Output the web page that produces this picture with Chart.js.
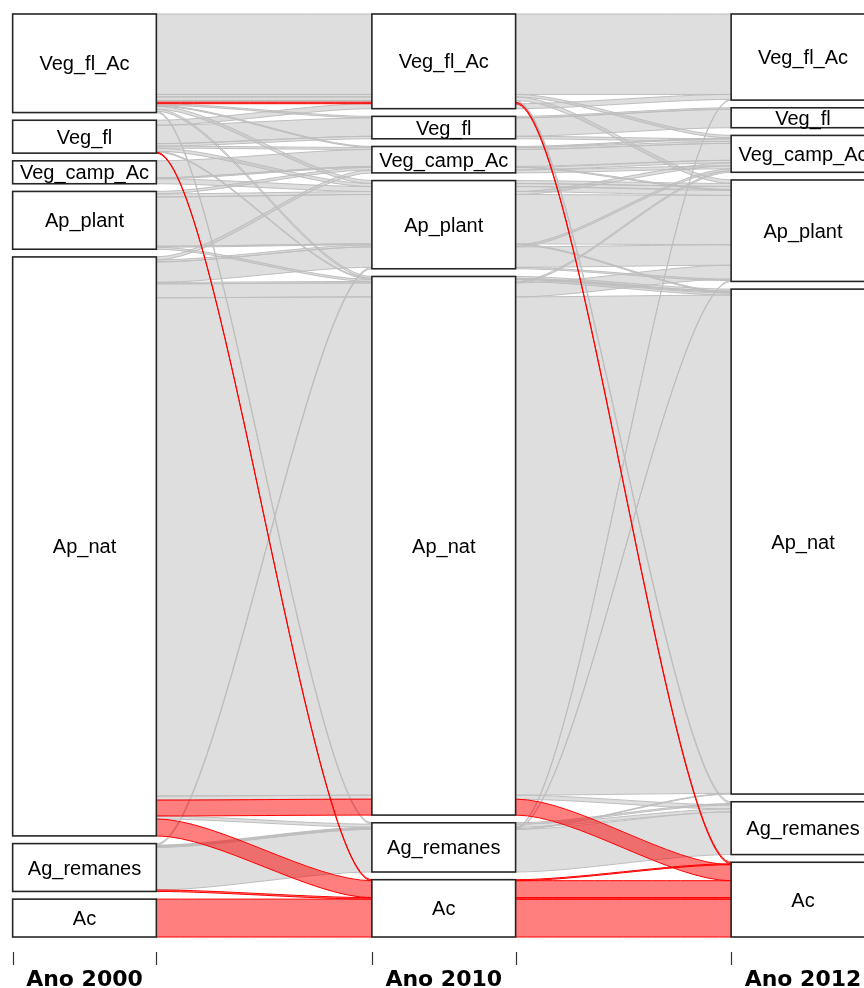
<!DOCTYPE html>
<html>
<head>
<meta charset="utf-8">
<script src="https://cdn.jsdelivr.net/npm/chart.js@4.4.1/dist/chart.umd.min.js"></script>
<style>
html,body{margin:0;padding:0;background:#ffffff;}
#wrap{width:864px;height:988px;position:relative;}
</style>
</head>
<body>
<div id="wrap"><canvas id="c"></canvas></div>
<script>
// Category levels (bottom to top on each axis)
const categories = ["Ac","Ag_remanes","Ap_nat","Ap_plant","Veg_camp_Ac","Veg_fl","Veg_fl_Ac"];
const years = ["Ano 2000","Ano 2010","Ano 2012"];

// One entry per alluvium (land-use trajectory)
const ano2000 = ["Ac","Ag_remanes","Ag_remanes","Ag_remanes","Ag_remanes","Ag_remanes","Ag_remanes",
  "Ap_nat","Ap_nat","Ap_nat","Ap_nat","Ap_nat","Ap_nat","Ap_nat","Ap_nat","Ap_nat","Ap_nat",
  "Ap_plant","Ap_plant","Ap_plant","Ap_plant","Ap_plant",
  "Veg_camp_Ac","Veg_camp_Ac","Veg_camp_Ac",
  "Veg_fl","Veg_fl","Veg_fl","Veg_fl","Veg_fl","Veg_fl","Veg_fl",
  "Veg_fl_Ac","Veg_fl_Ac","Veg_fl_Ac","Veg_fl_Ac","Veg_fl_Ac","Veg_fl_Ac","Veg_fl_Ac","Veg_fl_Ac","Veg_fl_Ac","Veg_fl_Ac"];
const ano2010 = ["Ac","Ac","Ag_remanes","Ag_remanes","Ag_remanes","Ag_remanes","Ap_plant",
  "Ac","Ag_remanes","Ap_nat","Ap_nat","Ap_nat","Ap_nat","Ap_nat","Ap_plant","Ap_plant","Veg_camp_Ac",
  "Ap_nat","Ap_plant","Ap_plant","Ap_plant","Veg_camp_Ac",
  "Ap_plant","Veg_camp_Ac","Veg_camp_Ac",
  "Ac","Ap_nat","Ap_plant","Veg_camp_Ac","Veg_fl","Veg_fl","Veg_fl_Ac",
  "Ag_remanes","Ap_nat","Ap_plant","Veg_camp_Ac","Veg_fl","Veg_fl_Ac","Veg_fl_Ac","Veg_fl_Ac","Veg_fl_Ac","Veg_fl_Ac"];
const ano2012 = ["Ac","Ac","Ag_remanes","Ap_nat","Ap_plant","Veg_fl_Ac","Ap_plant",
  "Ac","Ag_remanes","Ac","Ag_remanes","Ap_nat","Ap_plant","Veg_camp_Ac","Ap_plant","Veg_camp_Ac","Veg_camp_Ac",
  "Ap_nat","Ap_nat","Ap_plant","Veg_camp_Ac","Veg_camp_Ac",
  "Ap_plant","Ap_plant","Veg_camp_Ac",
  "Ac","Ap_nat","Ap_plant","Veg_camp_Ac","Veg_camp_Ac","Veg_fl","Veg_fl_Ac",
  "Ag_remanes","Ap_nat","Ap_plant","Veg_camp_Ac","Veg_fl","Ac","Ag_remanes","Ap_plant","Veg_camp_Ac","Veg_fl_Ac"];
const area = [38,1.5,42.8,0.7,0.8,0.7,1.5,
  17,3,16,4,500,14,1.5,20.5,2,3,
  2,1,49.5,3,2.5,
  5,1,17,
  1,1,3,2,2.5,18.5,5,
  1.4,2,3,1,1.5,1.5,1.8,3.5,2.5,80.7];

const highlight = "Ac"; // trajectories ending in Ac (2012) in red

// ---- layout (alluvial-style stacking) ----
const GAP = 0.05, CW = 0.2, K = 0.28;
const dims = [ano2000, ano2010, ano2012];
const n = area.length;
const total = area.reduce((a,b)=>a+b,0);
const frac = area.map(v=>v/total);
const lvl = c => categories.indexOf(c);

function stackAxis(i){
  const keys = [i, ...[0,1,2].filter(k=>k!==i)];
  const o = [...Array(n).keys()].sort((p,q)=>{
    for (const k of keys){ const d = lvl(dims[k][p]) - lvl(dims[k][q]); if (d) return d; }
    return p-q;
  });
  const mx = Math.max(1, new Set(dims[i]).size - 1);
  const res = new Array(n);
  let cum = 0, g = 0, prev = null;
  for (const idx of o){
    const c = lvl(dims[i][idx]);
    if (prev !== null && c !== prev) g++;
    prev = c;
    const lo = cum*(1-GAP) + g/mx*GAP;
    cum += frac[idx];
    const hi = cum*(1-GAP) + g/mx*GAP;
    res[idx] = [lo, hi];
  }
  return res;
}
const pos = dims.map((_,i)=>stackAxis(i));

const alluvialPlugin = {
  id: 'alluvial',
  afterDraw(chart){
    const ctx = chart.ctx, xs = chart.scales.x, ys = chart.scales.y;
    const X = v => xs.getPixelForValue(v), Y = v => ys.getPixelForValue(v);
    ctx.save();
    // flows
    const idx = [...Array(n).keys()];
    const drawOrder = idx.filter(i=>ano2012[i]!==highlight).concat(idx.filter(i=>ano2012[i]===highlight));
    for (const i of drawOrder){
      const red = ano2012[i]===highlight;
      ctx.fillStyle = red ? 'rgba(255,0,0,0.5)' : 'rgba(190,190,190,0.5)';
      ctx.strokeStyle = red ? '#FF0000' : '#BEBEBE';
      ctx.lineWidth = 1;
      for (let j=0;j<2;j++){
        const x1 = X(j+1+CW), x2 = X(j+2-CW), dx = (x2-x1)*K;
        const [l1,u1] = pos[j][i], [l2,u2] = pos[j+1][i];
        const yt1=Y(u1), yb1=Y(l1), yt2=Y(u2), yb2=Y(l2);
        ctx.beginPath();
        ctx.moveTo(x1,yt1);
        ctx.bezierCurveTo(x1+dx,yt1,x2-dx,yt2,x2,yt2);
        ctx.lineTo(x2,yb2);
        ctx.bezierCurveTo(x2-dx,yb2,x1+dx,yb1,x1,yb1);
        ctx.closePath();
        ctx.fill();
        ctx.stroke();
      }
    }
    // boxes + labels
    ctx.font = '20px "Liberation Sans", Arial, sans-serif';
    ctx.textAlign = 'center';
    ctx.textBaseline = 'alphabetic';
    for (let j=0;j<3;j++){
      for (const c of categories){
        let lo=Infinity, hi=-Infinity;
        for (let i=0;i<n;i++) if (dims[j][i]===c){ lo=Math.min(lo,pos[j][i][0]); hi=Math.max(hi,pos[j][i][1]); }
        if (!isFinite(lo)) continue;
        const xl=X(j+1-CW), xr=X(j+1+CW), yt=Y(hi), yb=Y(lo);
        ctx.fillStyle='#ffffff';
        ctx.fillRect(xl,yt,xr-xl,yb-yt);
        ctx.strokeStyle='#262626';
        ctx.lineWidth=1.6;
        ctx.strokeRect(xl,yt,xr-xl,yb-yt);
        ctx.fillStyle='#000000';
        ctx.fillText(c, X(j+1), (yt+yb)/2+7);
      }
    }
    // axis ticks and year labels
    const bottom = chart.chartArea.bottom;
    ctx.strokeStyle='#333333';
    ctx.lineWidth=1.2;
    for (let j=0;j<3;j++){
      for (const e of [-CW, CW]){
        const x = Math.round(X(j+1+e))+0.5;
        ctx.beginPath(); ctx.moveTo(x,bottom+15); ctx.lineTo(x,bottom+28); ctx.stroke();
      }
    }
    ctx.font = 'bold 22px "DejaVu Sans", Verdana, sans-serif';
    ctx.fillStyle='#000000';
    for (let j=0;j<3;j++) ctx.fillText(years[j], X(j+1), bottom+49);
    ctx.restore();
  }
};

new Chart(document.getElementById('c'), {
  type: 'scatter',
  data: { datasets: [{ data: [], pointRadius: 0 }] },
  options: {
    responsive: true,
    maintainAspectRatio: false,
    animation: false,
    events: [],
    layout: { padding: { left: 12.65, right: 0, top: 14, bottom: 51 } },
    scales: {
      x: { type: 'linear', min: 0.8, max: 3.1698, display: false },
      y: { type: 'linear', min: 0, max: 1, display: false }
    },
    plugins: { legend: { display: false }, tooltip: { enabled: false } }
  },
  plugins: [alluvialPlugin]
});
</script>
</body>
</html>
